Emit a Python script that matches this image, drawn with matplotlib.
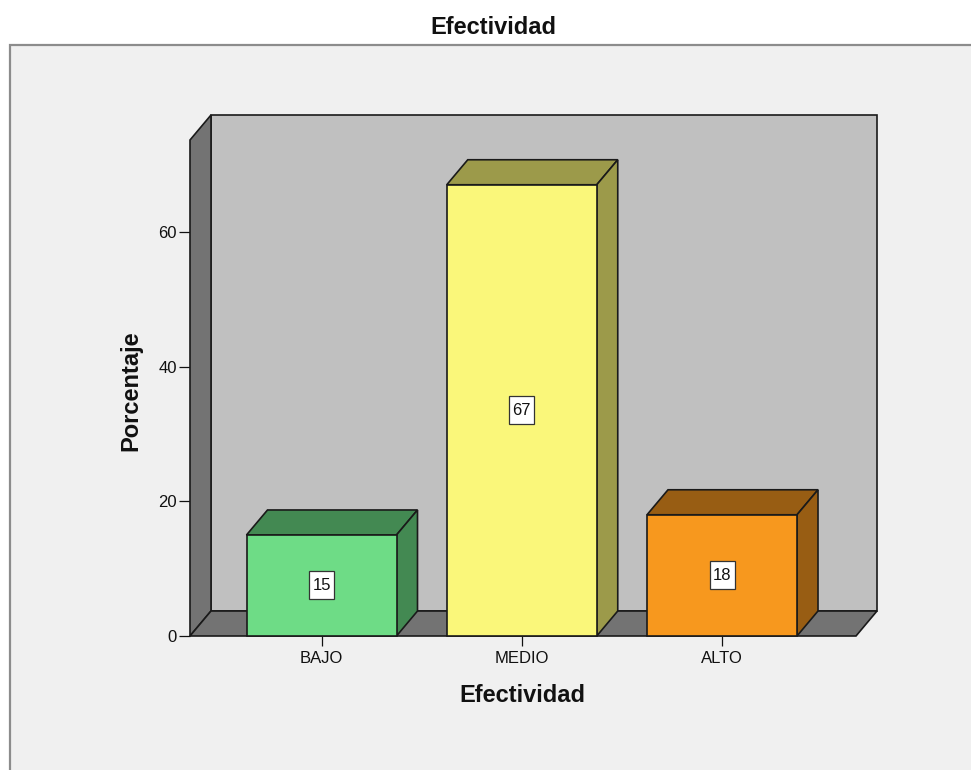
import matplotlib
matplotlib.use("Agg")
import matplotlib.pyplot as plt
from matplotlib.patches import Polygon, Rectangle

plt.rcParams['font.family'] = ['Liberation Sans', 'DejaVu Sans']

# Data
categories = ["BAJO", "MEDIO", "ALTO"]
percentages = [15, 67, 18]
y_ticks = [0, 20, 40, 60]

# Styling
front_colors = ["#6EDC86", "#FAF77A", "#F7981E"]
shade_colors = ["#438952", "#9C9A4A", "#985D13"]
wall_color = "#737373"
back_color = "#C0C0C0"
frame_bg = "#F0F0F0"
edge = "#1A1A1A"

W, H = 971, 770
fig = plt.figure(figsize=(W / 100, H / 100), dpi=100)
fig.patch.set_facecolor("white")

# Outer chart frame (runs off the right and bottom edges)
fig.patches.append(Rectangle((10 / W, -0.05), 1.2, 1.05 - 45 / H, transform=fig.transFigure,
                             facecolor=frame_bg, edgecolor="#8C8C8C", linewidth=1.6,
                             zorder=-5))

# Plot area in pixels
px_left, px_right, px_top, px_bottom = 190, 880, 110, 636
ax = fig.add_axes([px_left / W, 1 - px_bottom / H,
                   (px_right - px_left) / W, (px_bottom - px_top) / H])
ax.set_facecolor("none")
ax.set_zorder(2)

x_step = 200.25          # pixels per category
y_step = 6.735           # pixels per percentage point
x0_px = 321.5            # pixel of first category centre
ax.set_xlim((px_left - x0_px) / x_step, (px_right - x0_px) / x_step)
ax.set_ylim(0, (px_bottom - px_top) / y_step)

DX = 21 / x_step         # depth offset (x)
DY = 25 / y_step         # depth offset (y)
xL = (190 - x0_px) / x_step
xR = (856 - x0_px) / x_step
y_top = (636 - 140) / y_step
half_w = 75 / x_step
box_w = 25 / x_step      # value label box size
box_h = 28 / y_step

lw = 1.2
common = dict(edgecolor=edge, linewidth=lw, joinstyle="miter", clip_on=False)

# Back wall
ax.add_patch(Polygon([(xL + DX, DY), (xR + DX, DY), (xR + DX, y_top + DY), (xL + DX, y_top + DY)],
                     facecolor=back_color, zorder=1, **common))
# Left wall
ax.add_patch(Polygon([(xL, 0), (xL, y_top), (xL + DX, y_top + DY), (xL + DX, DY)],
                     facecolor=wall_color, zorder=2, **common))
# Floor
ax.add_patch(Polygon([(xL, 0), (xR, 0), (xR + DX, DY), (xL + DX, DY)],
                     facecolor=wall_color, zorder=2, **common))

# 3D bars
for i, (v, fc, sc) in enumerate(zip(percentages, front_colors, shade_colors)):
    l, r = i - half_w, i + half_w
    ax.add_patch(Polygon([(l, v), (r, v), (r + DX, v + DY), (l + DX, v + DY)],
                         facecolor=sc, zorder=3, **common))
    ax.add_patch(Polygon([(r, 0), (r + DX, DY), (r + DX, v + DY), (r, v)],
                         facecolor=sc, zorder=3, **common))
    ax.add_patch(Polygon([(l, 0), (r, 0), (r, v), (l, v)],
                         facecolor=fc, zorder=4, **common))
    ax.add_patch(Rectangle((i - box_w / 2, v / 2 - box_h / 2), box_w, box_h,
                           facecolor="white", edgecolor="#333333", linewidth=0.9,
                           zorder=5))
    ax.text(i, v / 2, f"{v}", ha="center", va="center", fontsize=12, color="#111111",
            zorder=6)

# Axes, ticks and labels
for s in ax.spines.values():
    s.set_visible(False)
ax.set_yticks(y_ticks)
ax.set_yticklabels([str(t) for t in y_ticks])
ax.set_xticks(range(len(categories)))
ax.set_xticklabels(categories)
ax.tick_params(axis="y", direction="out", length=8, width=0.9, pad=1.5,
               labelsize=12, colors="#111111")
ax.tick_params(axis="x", direction="out", length=7, width=0.9, pad=4,
               labelsize=12, colors="#111111")

fig.text(493.5 / W, 1 - 27 / H, "Efectividad", ha="center", va="center",
         fontsize=17, fontweight="bold", color="#111111")
fig.text(522.5 / W, 1 - 696 / H, "Efectividad", ha="center", va="center",
         fontsize=17, fontweight="bold", color="#111111")
fig.text(131 / W, 1 - 391 / H, "Porcentaje", ha="center", va="center", rotation=90,
         fontsize=17, fontweight="bold", color="#111111")

fig.savefig("out.png", dpi=100, facecolor="white")
